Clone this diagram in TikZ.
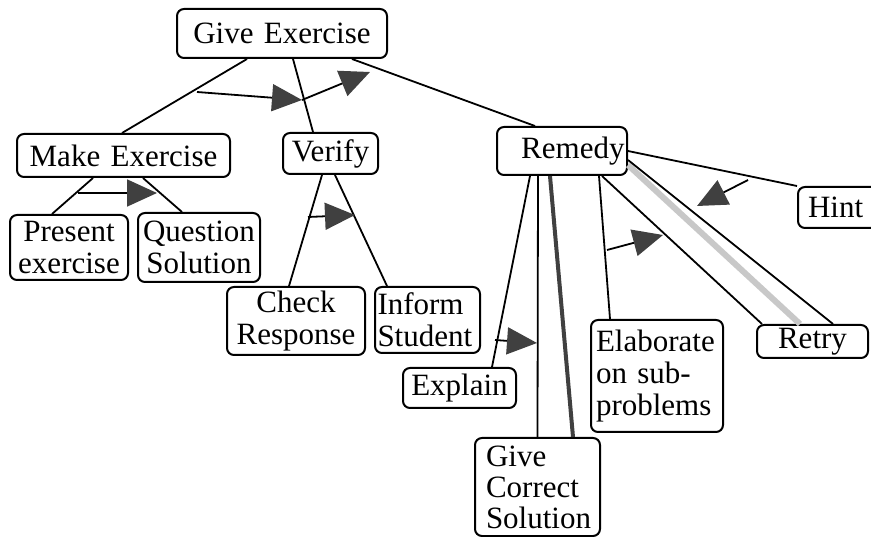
\documentclass[tikz,border=0pt]{standalone}
\usepackage{fontspec}
\setmainfont{Liberation Serif}
\usetikzlibrary{arrows.meta,calc}
\definecolor{tipgray}{HTML}{404040}
\definecolor{bargray}{HTML}{C8C8C8}

\begin{document}
\begin{tikzpicture}[x=1pt,y=-1pt,
    box/.style={draw, rounded corners=7pt, line width=2pt, inner sep=0pt,
        font=\fontsize{31}{32}\selectfont, align=center},
    link/.style={line width=1.8pt},
    seq/.style={line width=1.8pt, -{Triangle[length=30pt,width=27pt,fill=tipgray,color=tipgray]}}]
            \clip (0,0) rectangle (871,537);
            \node[box, text width=210pt, minimum height=49pt] (GIVE) at (282,33.5) {Give Exercise};
            \node[box, text width=213pt, minimum height=43pt] (MAKE) at (123.5,155.5) {Make Exercise};
            \node[box, text width=95pt, minimum height=41pt] (VERIFY) at (330.5,153.5) {Verify};
            \node[box, text width=125pt, inner xsep=2.5pt, align=right, minimum height=48pt] (REMEDY) at (562,151) {Remedy};
            \node[box, anchor=west, text width=70pt, inner xsep=10pt, align=left, minimum height=41pt] (HINT) at (797,207.5) {Hint};
            \node[box, text width=111pt, minimum height=33pt] (RETRY) at (812.5,341.5) {Retry};
            \node[box, text width=118pt, minimum height=65pt] (PRESENT) at (69,247.5) {Present\\exercise};
            \node[box, text width=122pt, minimum height=69pt] (QUESTION) at (199,247.5) {Question\\Solution};
            \node[box, text width=138pt, minimum height=68pt] (CHECK) at (296,321) {Check\\Response};
            \node[box, text width=100pt, inner xsep=2.5pt, align=left, minimum height=66pt] (INFORM) at (427.5,320) {Inform\\Student};
            \node[box, text width=113pt, minimum height=40pt] (EXPLAIN) at (459.5,388) {Explain};
            \node[box, text width=103pt, inner xsep=11pt, align=left, minimum height=98pt,
                font=\fontsize{31}{31}\selectfont] (CORRECT) at (537.5,487) {Give\\Correct\\Solution};
            \node[box, text width=122pt, inner xsep=5pt, align=left, minimum height=112pt] (ELAB) at (657,376) {Elaborate\\on sub-\\problems};

            \coordinate (S1) at (197,92);
            \coordinate (S2) at (302,100);
            \coordinate (S3) at (370,72);
            \coordinate (M1) at (78,193);
            \coordinate (M2) at (157,193);
            \coordinate (V1) at (308,217);
            \coordinate (V2) at (355,215);
            \coordinate (H1) at (748,180);
            \coordinate (H2) at (697,206);
            \coordinate (E1) at (607,250);
            \coordinate (E2) at (663,235);
            \coordinate (X1) at (495,340);
            \coordinate (X2) at (537,343);

            \draw[link] ([xshift=-35pt]GIVE.south) -- ([xshift=-1.5pt]MAKE.north);
            \draw[link] ([xshift=11pt]GIVE.south) -- ([xshift=-17.5pt]VERIFY.north);
            \draw[link] ([xshift=70pt]GIVE.south) -- ([xshift=-27pt]REMEDY.north);
            \draw[seq] (S1) -- (S2);
            \draw[seq] (S2) -- (S3);

            \draw[link] ([xshift=-30.5pt]MAKE.south) -- ([xshift=-17pt]PRESENT.north);
            \draw[link] ([xshift=19.5pt]MAKE.south) -- ([xshift=-17pt]QUESTION.north);
            \draw[seq] (M1) -- (M2);

            \draw[link] ([xshift=-8.5pt]VERIFY.south) -- ([xshift=-7pt]CHECK.north);
            \draw[link] ([xshift=4.5pt]VERIFY.south) -- ([xshift=-40.5pt]INFORM.north);
            \draw[seq] (V1) -- (V2);

            \draw[line width=6pt, bargray] ([yshift=-14pt]REMEDY.east) -- ([xshift=-12.5pt]RETRY.north);
            \draw[link] ([xshift=-32pt]REMEDY.south) -- ([xshift=32.5pt]EXPLAIN.north);
            \draw[link] ([xshift=-24pt]REMEDY.south) -- (CORRECT.north);
            \draw[line width=4pt, tipgray] ([xshift=-12pt]REMEDY.south) -- ([xshift=35.5pt]CORRECT.north);
            \draw[link] ([xshift=37pt]REMEDY.south) -- ([xshift=-47pt]ELAB.north);
            \draw[link] ([xshift=40pt]REMEDY.south) -- ([xshift=-50.5pt]RETRY.north);
            \draw[link] ([yshift=-9pt]REMEDY.east) -- ([xshift=20.5pt]RETRY.north);
            \draw[link] (REMEDY.east) -- (HINT.north west);
            \draw[seq] (H1) -- (H2);
            \draw[seq] (E1) -- (E2);
            \draw[seq] (X1) -- (X2);
        \end{tikzpicture}
\end{document}
